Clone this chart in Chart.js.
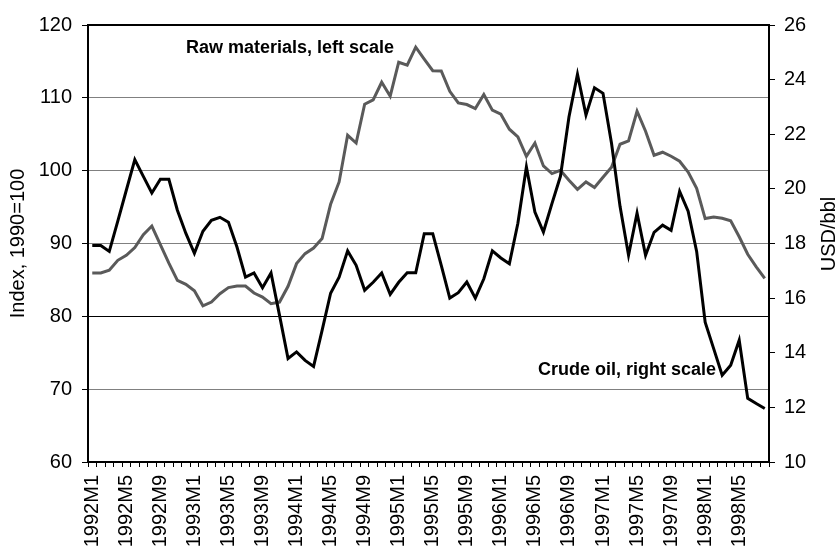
<!DOCTYPE html>
<html><head><meta charset="utf-8">
<script src="https://cdn.jsdelivr.net/npm/chart.js@4/dist/chart.umd.min.js"></script>
<style>html,body{margin:0;padding:0;background:#fff;}canvas{display:block;}</style>
</head><body>
<canvas id="c" width="837" height="547"></canvas>
<script>
const months = [
 '1992M1','1992M2','1992M3','1992M4','1992M5','1992M6','1992M7','1992M8','1992M9','1992M10','1992M11','1992M12',
 '1993M1','1993M2','1993M3','1993M4','1993M5','1993M6','1993M7','1993M8','1993M9','1993M10','1993M11','1993M12',
 '1994M1','1994M2','1994M3','1994M4','1994M5','1994M6','1994M7','1994M8','1994M9','1994M10','1994M11','1994M12',
 '1995M1','1995M2','1995M3','1995M4','1995M5','1995M6','1995M7','1995M8','1995M9','1995M10','1995M11','1995M12',
 '1996M1','1996M2','1996M3','1996M4','1996M5','1996M6','1996M7','1996M8','1996M9','1996M10','1996M11','1996M12',
 '1997M1','1997M2','1997M3','1997M4','1997M5','1997M6','1997M7','1997M8','1997M9','1997M10','1997M11','1997M12',
 '1998M1','1998M2','1998M3','1998M4','1998M5','1998M6','1998M7','1998M8'
];
const shownLabels = ['1992M1','1992M5','1992M9','1993M1','1993M5','1993M9','1994M1','1994M5','1994M9',
 '1995M1','1995M5','1995M9','1996M1','1996M5','1996M9','1997M1','1997M5','1997M9','1998M1','1998M5'];
const rawMaterials = [
 85.95,85.95,86.32,87.69,88.38,89.44,91.2,92.4,89.85,87.3,84.94,84.4,
 83.5,81.44,81.96,83.1,83.94,84.16,84.16,83.2,82.65,81.74,81.96,84.12,
 87.24,88.61,89.38,90.67,95.38,98.45,104.86,103.8,109.12,109.73,112.14,110.22,
 114.89,114.48,116.95,115.33,113.72,113.7,110.9,109.3,109.08,108.53,110.45,108.3,
 107.75,105.69,104.63,101.98,103.8,100.65,99.6,100.05,98.68,97.44,98.45,97.68,
 99.1,100.47,103.63,104.08,108.16,105.41,102.12,102.53,101.98,101.29,99.82,97.58,
 93.42,93.64,93.46,93.12,90.92,88.52,86.8,85.2
];
const crudeOil = [
 17.93,17.93,17.71,18.82,19.95,21.07,20.46,19.85,20.35,20.35,19.22,18.37,
 17.64,18.45,18.85,18.96,18.78,17.87,16.77,16.92,16.38,16.92,15.37,13.79,
 14.03,13.72,13.5,14.82,16.18,16.77,17.73,17.2,16.29,16.58,16.92,16.14,
 16.58,16.93,16.93,18.36,18.36,17.2,16.0,16.2,16.59,16.0,16.71,17.73,
 17.47,17.26,18.74,20.8,19.15,18.42,19.46,20.46,22.63,24.2,22.7,23.7,
 23.5,21.67,19.36,17.57,19.11,17.57,18.41,18.67,18.48,19.91,19.18,17.71,
 15.12,14.15,13.18,13.54,14.46,12.33,12.14,11.96
];
const leftTicks = {min:60, max:120, step:10};
const rightTicks = {min:10, max:26, step:2};

const FONT = "'Liberation Sans', Arial, Helvetica, sans-serif";
Chart.defaults.font.family = FONT;
Chart.defaults.font.size = 20;
Chart.defaults.color = '#000';

const extras = {
  id:'extras',
  afterDatasetsDraw(chart){
    const {ctx, chartArea, scales} = chart;
    ctx.save();
    ctx.strokeStyle = '#000'; ctx.lineWidth = 2;
    ctx.beginPath(); ctx.moveTo(chartArea.left, chartArea.top); ctx.lineTo(chartArea.right, chartArea.top); ctx.stroke();
    ctx.fillStyle = '#000';
    ctx.font = 'bold 18px ' + FONT;
    ctx.textBaseline = 'middle'; ctx.textAlign = 'left';
    ctx.fillText('Raw materials, left scale', scales.x.getPixelForValue(11), scales.y.getPixelForValue(116.8));
    ctx.fillText('Crude oil, right scale', scales.x.getPixelForValue(52.35), scales.y1.getPixelForValue(13.36));
    ctx.font = '20px ' + FONT;
    ctx.textAlign = 'center';
    ctx.translate(829, 234);
    ctx.rotate(-Math.PI/2);
    ctx.fillText('USD/bbl', 0, 0);
    ctx.restore();
  }
};

new Chart(document.getElementById('c'), {
  type:'line',
  data:{
    labels: months,
    datasets:[
      {label:'Crude oil, right scale', data:crudeOil, yAxisID:'y1', borderColor:'#000', borderWidth:3, order:0},
      {label:'Raw materials, left scale', data:rawMaterials, yAxisID:'y', borderColor:'#5a5a5a', borderWidth:3, order:1}
    ]
  },
  options:{
    animation:false, responsive:false, devicePixelRatio:1,
    layout:{padding:{top:25,left:0,right:0,bottom:0}},
    plugins:{legend:{display:false}, tooltip:{enabled:false}},
    elements:{point:{radius:0}, line:{tension:0, borderJoinStyle:'miter', borderCapStyle:'butt'}},
    scales:{
      x:{
        type:'category', offset:true,
        grid:{offset:true, drawOnChartArea:false, tickLength:5, tickColor:'#000', lineWidth:1},
        border:{color:'#000', width:2},
        ticks:{autoSkip:false, maxRotation:90, minRotation:90, padding:8, color:'#000', font:{size:20},
          callback:function(v){ const l = this.getLabelForValue(v); return shownLabels.includes(l) ? l : ''; }},
        afterFit:s=>{ s.height = 85; }
      },
      y:{
        position:'left', min:leftTicks.min, max:leftTicks.max,
        ticks:{stepSize:leftTicks.step, padding:10, color:'#000', font:{size:20}},
        grid:{color:c=> (c.tick && c.tick.value===80) ? '#000' : '#808080', tickColor:'#000', tickLength:6, lineWidth:1},
        border:{color:'#000', width:2},
        title:{display:true, text:'Index, 1990=100', color:'#000', font:{size:20}, padding:{top:6,bottom:0}},
        afterFit:s=>{ s.width = 88; }
      },
      y1:{
        position:'right', min:rightTicks.min, max:rightTicks.max,
        ticks:{stepSize:rightTicks.step, padding:9, color:'#000', font:{size:20}},
        grid:{drawOnChartArea:false, tickColor:'#000', tickLength:6, lineWidth:1},
        border:{color:'#000', width:2},
        afterFit:s=>{ s.width = 68; }
      }
    }
  },
  plugins:[extras]
});
</script>
</body></html>
